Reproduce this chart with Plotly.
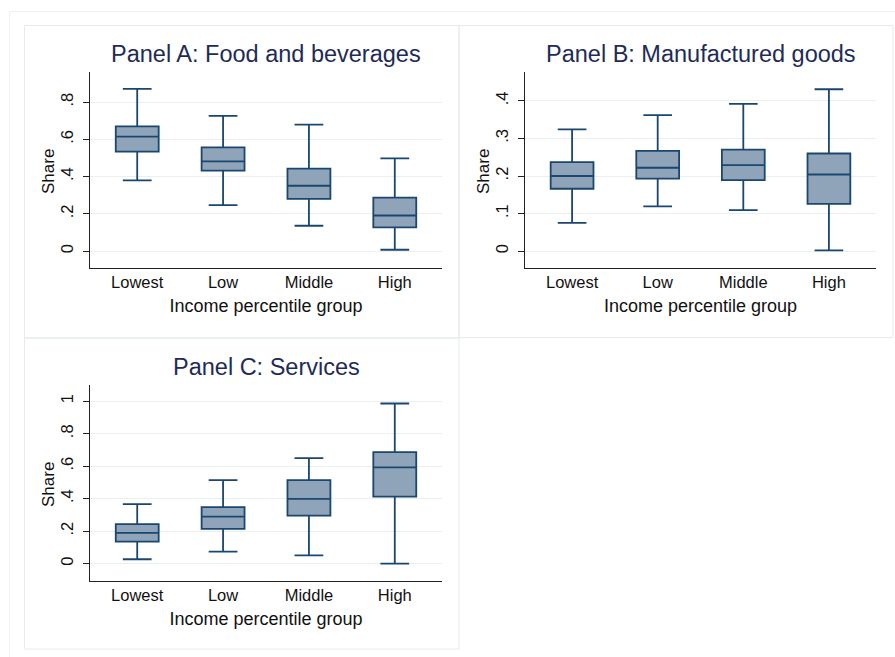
import plotly.graph_objects as go

# Income groups on the horizontal axis
groups = ["Lowest", "Low", "Middle", "High"]
positions = [0, 1, 2, 3]

# Panel A: Food and beverages (box statistics per income group)
food_lower = [0.380, 0.247, 0.136, 0.007]
food_q1 = [0.534, 0.432, 0.280, 0.127]
food_median = [0.615, 0.482, 0.351, 0.191]
food_q3 = [0.670, 0.557, 0.443, 0.287]
food_upper = [0.871, 0.726, 0.679, 0.498]

# Panel B: Manufactured goods
manuf_lower = [0.075, 0.119, 0.109, 0.002]
manuf_q1 = [0.166, 0.193, 0.189, 0.126]
manuf_median = [0.200, 0.222, 0.229, 0.204]
manuf_q3 = [0.237, 0.267, 0.270, 0.260]
manuf_upper = [0.324, 0.362, 0.392, 0.431]

# Panel C: Services
serv_lower = [0.027, 0.074, 0.051, 0.000]
serv_q1 = [0.136, 0.214, 0.296, 0.412]
serv_median = [0.189, 0.290, 0.399, 0.593]
serv_q3 = [0.243, 0.348, 0.514, 0.687]
serv_upper = [0.366, 0.514, 0.650, 0.986]

# Y-axis ticks for each panel
food_ticks = [0, 0.2, 0.4, 0.6, 0.8]
food_ticktext = ["0", ".2", ".4", ".6", ".8"]
manuf_ticks = [0, 0.1, 0.2, 0.3, 0.4]
manuf_ticktext = ["0", ".1", ".2", ".3", ".4"]
serv_ticks = [0, 0.2, 0.4, 0.6, 0.8, 1.0]
serv_ticktext = ["0", ".2", ".4", ".6", ".8", "1"]

panel_titles = ["Panel A: Food and beverages", "Panel B: Manufactured goods", "Panel C: Services"]

W, H = 895, 657
FONT = "Liberation Sans, Arial, Helvetica, sans-serif"
NAVY = "#1a476f"
FILL = "#8fa4b9"
TITLE_COLOR = "#1e2b58"
GRID = "#e9f0f2"
FRAME = "#e4ecee"


def px(x):
    return x / W


def py(y):
    return 1 - y / H


# plot-region boxes in pixels: (left, top, right, bottom)
regions = [
    (90, 72, 442, 268),
    (525, 72, 876, 268),
    (90, 385, 442, 581),
]

fig = go.Figure()

panels = [
    (food_lower, food_q1, food_median, food_q3, food_upper, food_ticks, food_ticktext, [-0.091, 0.962]),
    (manuf_lower, manuf_q1, manuf_median, manuf_q3, manuf_upper, manuf_ticks, manuf_ticktext, [-0.045, 0.477]),
    (serv_lower, serv_q1, serv_median, serv_q3, serv_upper, serv_ticks, serv_ticktext, [-0.107, 1.100]),
]

layout_axes = {}
annotations = []
for i, (lo, q1, med, q3, hi, tv, tt, yr) in enumerate(panels):
    n = "" if i == 0 else str(i + 1)
    fig.add_trace(go.Box(
        x=positions, q1=q1, median=med, q3=q3,
        lowerfence=lo, upperfence=hi,
        width=0.5, whiskerwidth=0.67,
        fillcolor=FILL, line=dict(color=NAVY, width=1.8),
        boxpoints=False, showlegend=False, hoverinfo="skip",
        xaxis="x" + n, yaxis="y" + n,
    ))
    l, t, r, b = regions[i]
    layout_axes["xaxis" + n] = dict(
        domain=[px(l), px(r)], anchor="y" + n,
        range=[-0.55, 3.55], tickvals=positions, ticktext=groups,
        showgrid=False, zeroline=False, showline=True, linecolor="#222222", linewidth=1.4,
        ticks="", ticklabelstandoff=-1,
        tickfont=dict(family=FONT, size=16.5, color="#111111"),
        title=dict(text="Income percentile group", standoff=9,
                   font=dict(family=FONT, size=18, color="#111111")),
        fixedrange=True,
    )
    layout_axes["yaxis" + n] = dict(
        domain=[py(b), py(t)], anchor="x" + n,
        range=yr, tickvals=tv, ticktext=tt, tickangle=-90,
        showgrid=True, gridcolor=GRID, gridwidth=1.2,
        zeroline=False, showline=True, linecolor="#222222", linewidth=1.4,
        ticks="outside", ticklen=6, tickcolor="#222222", tickwidth=1.2,
        ticklabelstandoff=3,
        tickfont=dict(family=FONT, size=16.5, color="#111111"),
        fixedrange=True,
    )
    # panel title above the plot region
    annotations.append(dict(
        text=panel_titles[i], x=px((l + r) / 2), y=py(t - 18),
        xref="paper", yref="paper", xanchor="center", yanchor="middle",
        showarrow=False, font=dict(family=FONT, size=23.5, color=TITLE_COLOR),
    ))
    # vertical "Share" axis title
    annotations.append(dict(
        text="Share", x=px(l - 42), y=py((t + b) / 2 + 2),
        xref="paper", yref="paper", xanchor="center", yanchor="middle",
        textangle=-90, showarrow=False,
        font=dict(family=FONT, size=17, color="#111111"),
    ))

# faint frames: outer figure frame and one per panel
shapes = [
    dict(type="rect", xref="paper", yref="paper",
         x0=px(9.5), y0=py(680), x1=px(910), y1=py(11.5),
         line=dict(color="#eef2f2", width=1), fillcolor="rgba(0,0,0,0)", layer="below"),
]
for (x0, y0, x1, y1) in [(24.5, 25.5, 459, 338), (459, 25.5, 893, 337.5), (24.5, 338, 459, 649)]:
    shapes.append(dict(type="rect", xref="paper", yref="paper",
                       x0=px(x0), y0=py(y1), x1=px(x1), y1=py(y0),
                       line=dict(color=FRAME, width=1), fillcolor="rgba(0,0,0,0)", layer="below"))

fig.update_layout(
    width=W, height=H,
    margin=dict(l=0, r=0, t=0, b=0),
    paper_bgcolor="white", plot_bgcolor="white",
    annotations=annotations, shapes=shapes,
    **layout_axes,
)

fig.write_html("out.html", config={"displayModeBar": False})
